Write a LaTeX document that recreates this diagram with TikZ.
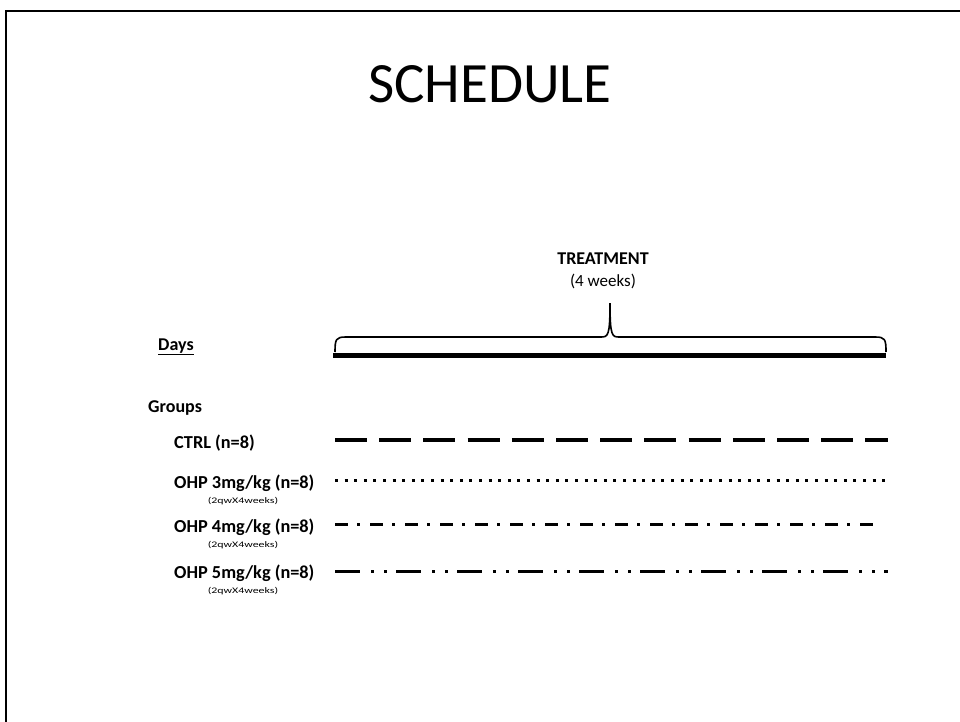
\documentclass[tikz,border=0pt]{standalone}
\usepackage{fontspec}
\setmainfont{Carlito}
\begin{document}
\begin{tikzpicture}[x=1pt,y=-1pt,
  lbl/.style={font=\fontsize{18.3}{22}\selectfont\bfseries, inner sep=0pt, anchor=west},
  sublbl/.style={font=\fontsize{8.5}{10}\selectfont, inner sep=0pt},
  tline/.style={line width=3pt},
  frame/.style={line width=1.8pt}]
\useasboundingbox (0,0) rectangle (960,722);
% frame
\coordinate (fbl) at (6,722);
\coordinate (ftl) at (6,11);
\coordinate (ftr) at (960,11);
\draw[frame] (fbl) -- (ftl) -- (ftr);
% title
\node[font=\fontsize{57}{60}\selectfont, inner sep=0pt] (title) at (490,84) {SCHEDULE};
% treatment
\node[font=\fontsize{18}{20}\selectfont\bfseries, inner sep=0pt] (treat) at (603,259) {TREATMENT};
\node[font=\fontsize{17}{20}\selectfont, inner sep=0pt] (weeks) at (603,281) {(4 weeks)};
% brace
\coordinate (bl) at (335,352);
\coordinate (br) at (886,352);
\coordinate (btip) at (610,303);
\draw[line width=1.6pt] (bl) .. controls (335,339) and (336,337) .. (346,337) -- (601,337)
  .. controls (608,337) and (610,336) .. (btip)
  .. controls (610,336) and (612,337) .. (619,337) -- (875,337)
  .. controls (885,337) and (886,339) .. (br);
% days
\node[font=\fontsize{18}{20}\selectfont\bfseries, inner sep=0pt, anchor=west] (days) at (158,347) {\underline{Days}};
\coordinate (d1) at (333,355);
\coordinate (d2) at (886,355);
\draw[line width=5pt] (d1) -- (d2);
% groups
\node[lbl, font=\fontsize{18}{20}\selectfont\bfseries] (groups) at (148,408) {Groups};
\node[lbl] (ctrl) at (174,443) {CTRL (n=8)};
\node[lbl] (ohp3) at (174,483) {OHP 3mg/kg (n=8)};
\node[sublbl] (s3) at (243,501) {\scalebox{1.4}[1]{(2qwX4weeks)}};
\node[lbl] (ohp4) at (174,527) {OHP 4mg/kg (n=8)};
\node[sublbl] (s4) at (243,545) {\scalebox{1.4}[1]{(2qwX4weeks)}};
\node[lbl] (ohp5) at (174,573) {OHP 5mg/kg (n=8)};
\node[sublbl] (s5) at (243,591) {\scalebox{1.4}[1]{(2qwX4weeks)}};
% group lines
\coordinate (c1) at (335,440); \coordinate (c2) at (888,440);
\draw[line width=3.6pt, dash pattern=on 32pt off 12.2pt] (c1) -- (c2);
\coordinate (o31) at (335,480); \coordinate (o32) at (885,480);
\draw[tline, dash pattern=on 3pt off 6.6pt] (o31) -- (o32);
\coordinate (o41) at (335,524); \coordinate (o42) at (878,524);
\draw[tline, dash pattern=on 13pt off 9pt on 3pt off 10pt] (o41) -- (o42);
\coordinate (o51) at (335,571); \coordinate (o52) at (888,571);
\draw[tline, dash pattern=on 25pt off 11pt on 3pt off 10pt on 3pt off 9pt] (o51) -- (o52);
\end{tikzpicture}
\end{document}
